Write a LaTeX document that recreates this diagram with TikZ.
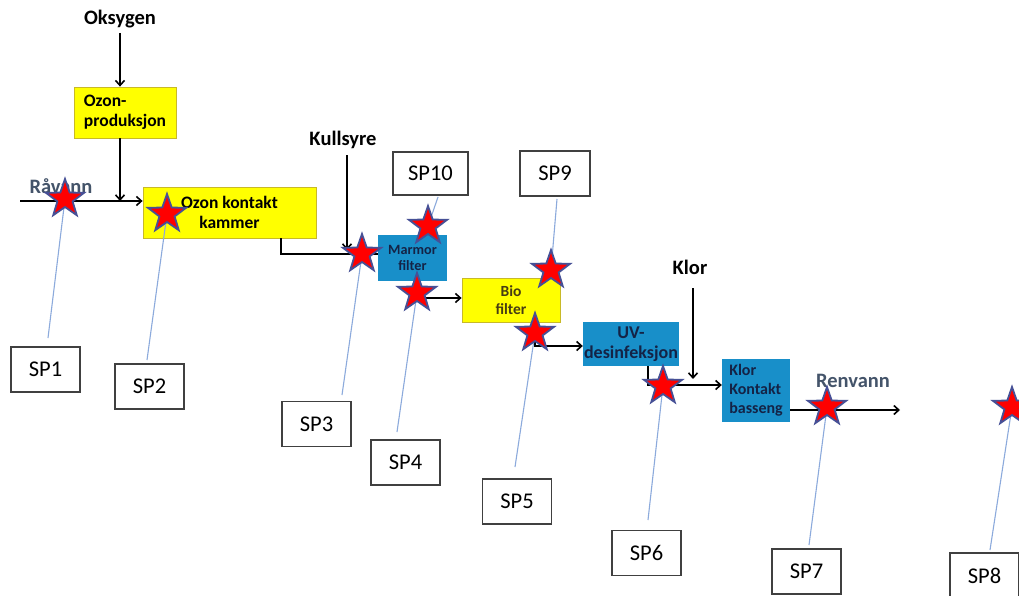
\documentclass[tikz,border=0pt]{standalone}
\usepackage{fontspec}
\setmainfont{Carlito}
\usetikzlibrary{shapes.geometric,arrows.meta}
\definecolor{boxyellow}{RGB}{255,255,0}
\definecolor{boxyellowline}{RGB}{200,185,40}
\definecolor{boxblue}{RGB}{24,143,201}
\definecolor{bluetext}{RGB}{20,35,70}
\definecolor{leader}{RGB}{140,170,220}
\definecolor{starline}{RGB}{70,80,150}
\definecolor{watertext}{RGB}{68,84,106}
\definecolor{spline}{RGB}{64,64,64}
\definecolor{biotext}{RGB}{70,60,20}
\tikzset{
  flow/.style={line width=1.8pt, black},
  flowarrow/.style={flow, -{Straight Barb[length=5pt,width=9pt,line width=1.6pt]}},
  ybox/.style={draw=boxyellowline, line width=0.8pt, fill=boxyellow, inner sep=0pt, font=\fontsize{17.5}{20}\selectfont\bfseries},
  bbox/.style={fill=boxblue, inner sep=0pt, text=bluetext, font=\fontsize{16}{19}\selectfont\bfseries},
  spbox/.style={draw=spline, line width=1.3pt, fill=white, minimum width=69pt, minimum height=45pt, inner sep=0pt, font=\fontsize{22.5}{24}\selectfont},
  sstar/.style={star, star points=5, star point ratio=2.5, minimum size=40pt, inner sep=0pt, fill=red, draw=starline, line width=1.8pt},
  leaderline/.style={draw=leader, line width=1.1pt},
  label/.style={font=\fontsize{20.5}{22}\selectfont\bfseries, inner sep=0pt},
  water/.style={label, text=watertext}
}
\begin{document}
\begin{tikzpicture}[x=1pt,y=-1pt]
\clip (0,0) rectangle (1019,596);
\fill[white] (0,0) rectangle (1019,596);

% process boxes
\node[ybox, minimum width=102pt, minimum height=51pt, align=left] (ozp) at (125,112.5) {Ozon-\\produksjon};
\node[ybox, minimum width=173pt, minimum height=51pt, align=center] (okk) at (229.5,212.5) {Ozon kontakt\\kammer};
\node[bbox, minimum width=69pt, minimum height=46pt, align=center, font=\fontsize{14.2}{16}\selectfont\bfseries] (mar) at (412.5,258) {Marmor\\filter};
\node[ybox, minimum width=98pt, minimum height=44pt, align=center, font=\fontsize{15.5}{18}\selectfont\bfseries, text=biotext] (bio) at (511,300) {Bio\\filter};
\node[bbox, minimum width=96pt, minimum height=44pt, align=center, font=\fontsize{18}{20}\selectfont\bfseries] (uv) at (631,344) {UV-\\desinfeksjon};
\node[bbox, minimum width=68pt, minimum height=63pt, align=left] (klb) at (756,390.5) {Klor\\Kontakt\\basseng};

% labels
\node[label] (oks) at (120,19) {Oksygen};
\node[label] (kul) at (343,140) {Kullsyre};
\node[label] (klor) at (690,267) {Klor};
\node[water] (rav) at (61,186) {Råvann};
\node[water] (ren) at (853,381) {Renvann};

% flow coordinates
\coordinate (in) at (20,201);
\coordinate (j1) at (120,201);
\coordinate (kulend) at (347,250);
\coordinate (klorend) at (693,379);
\coordinate (renend) at (900,410);

% flows
\draw[flowarrow] (oks.south |- 0,33) -- (ozp.north -| oks.south);
\draw[flowarrow] (ozp.south -| j1) -- (j1);
\draw[flowarrow] (in) -- (okk.west |- in);
\draw[flow] (okk.south -| 281,0) |- (mar.west |- 0,254);
\draw[flowarrow] (kul.south -| kulend) ++(0,6) -- (kulend);
\draw[flowarrow] (mar.south -| 417,0) |- (bio.west |- 0,298);
\draw[flowarrow] (bio.south -| 535,0) |- (uv.west |- 0,346);
\draw[flowarrow] (uv.south -| 648,0) |- (klb.west |- 0,385);
\draw[flowarrow] (klor.south -| klorend) ++(0,14) -- (klorend);
\draw[flowarrow] (klb.east |- renend) -- (renend);

% sample point boxes
\node[spbox] (sp1) at (45.5,369.5) {SP1};
\node[spbox] (sp2) at (149.5,386.5) {SP2};
\node[spbox] (sp3) at (316.5,424) {SP3};
\node[spbox] (sp4) at (405.5,462.5) {SP4};
\node[spbox] (sp5) at (517,501.5) {SP5};
\node[spbox] (sp6) at (646.5,553) {SP6};
\node[spbox] (sp7) at (806.5,571.5) {SP7};
\node[spbox] (sp8) at (984.5,575.5) {SP8};
\node[spbox, minimum width=70pt] (sp9) at (555,173.5) {SP9};
\node[spbox, minimum width=75pt, minimum height=43pt] (sp10) at (430.5,173.5) {SP10};

% star coordinates
\coordinate (c1) at (65,199);
\coordinate (c2) at (167,214);
\coordinate (c3) at (362,254);
\coordinate (c10) at (428,226);
\coordinate (c4) at (417,293);
\coordinate (c9) at (551,270);
\coordinate (c5) at (535,333);
\coordinate (c6) at (663,386);
\coordinate (c7) at (827,407);
\coordinate (c8) at (1012,407);

% leader start points
\coordinate (l1) at (48,338);
\coordinate (l2) at (147,360);
\coordinate (l3) at (342,395);
\coordinate (l4) at (397,432);
\coordinate (l5) at (515,467);
\coordinate (l6) at (648,520);
\coordinate (l7) at (809,545);
\coordinate (l8) at (990,550);
\coordinate (l9) at (557,199);
\coordinate (l10) at (438,197);

% leader lines
\draw[leaderline] (l1) -- (c1);
\draw[leaderline] (l2) -- (c2);
\draw[leaderline] (l3) -- (c3);
\draw[leaderline] (l4) -- (c4);
\draw[leaderline] (l5) -- (c5);
\draw[leaderline] (l6) -- (c6);
\draw[leaderline] (l7) -- (c7);
\draw[leaderline] (l8) -- (c8);
\draw[leaderline] (l9) -- (c9);
\draw[leaderline] (l10) -- (c10);

% stars
\node[sstar] (s1) at (c1) {};
\node[sstar] (s2) at (c2) {};
\node[sstar] (s3) at (c3) {};
\node[sstar] (s10) at (c10) {};
\node[sstar] (s4) at (c4) {};
\node[sstar] (s9) at (c9) {};
\node[sstar] (s5) at (c5) {};
\node[sstar] (s6) at (c6) {};
\node[sstar] (s7) at (c7) {};
\node[sstar] (s8) at (c8) {};
\end{tikzpicture}
\end{document}
